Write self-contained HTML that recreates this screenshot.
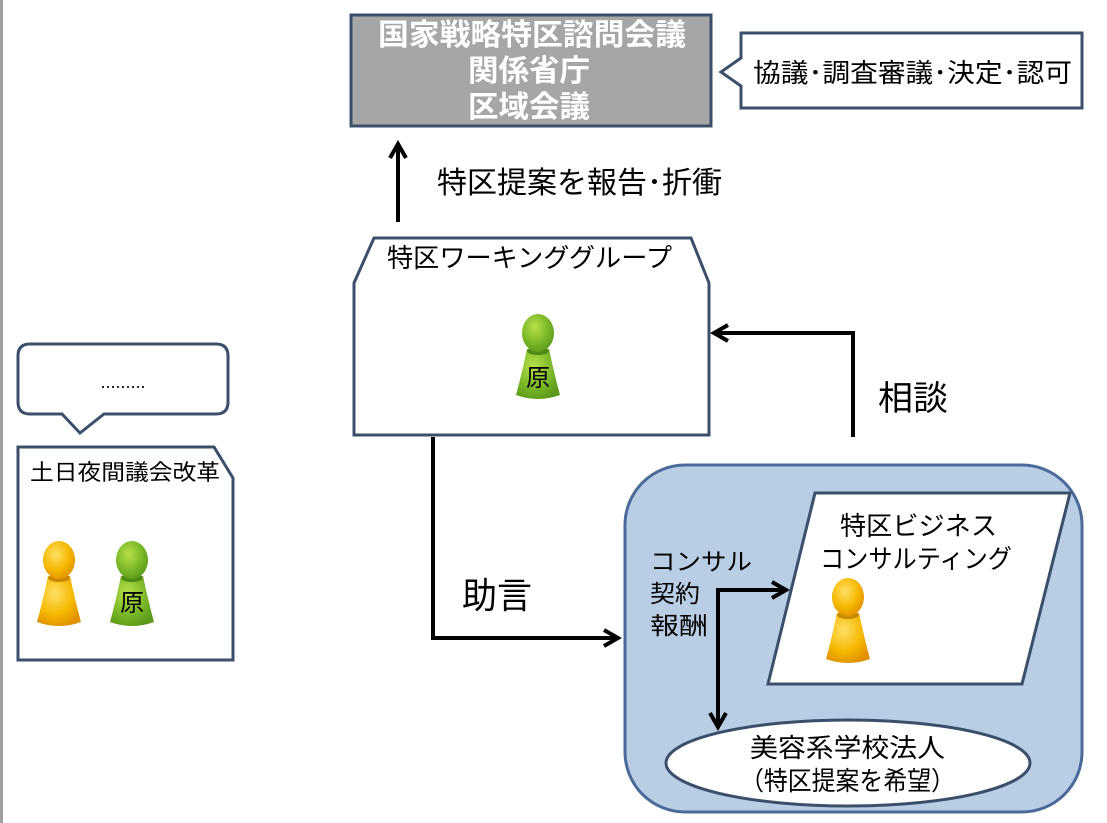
<!DOCTYPE html>
<html><head><meta charset="utf-8"><style>
html,body{margin:0;padding:0;background:#fff;}
svg{display:block;}
text{font-family:"Liberation Sans","Noto Sans CJK JP",sans-serif;}
</style></head><body>
<svg width="1107" height="823" viewBox="0 0 1107 823" xmlns="http://www.w3.org/2000/svg">
<defs>
<radialGradient id="gy" cx="40%" cy="35%" r="70%"><stop offset="0" stop-color="#ffe066"/><stop offset="0.6" stop-color="#f5b800"/><stop offset="1" stop-color="#e09000"/></radialGradient>
<radialGradient id="gg" cx="40%" cy="35%" r="70%"><stop offset="0" stop-color="#b8e04a"/><stop offset="0.6" stop-color="#7ab828"/><stop offset="1" stop-color="#5a9a18"/></radialGradient>
<g id="py"><path d="M-11,16 L11,16 Q16,40 22,62 Q0,70 -22,62 Q-16,40 -11,16Z" fill="url(#gy)"/><ellipse cx="0" cy="18" rx="11" ry="4" fill="#c98a00"/><ellipse cx="0" cy="0" rx="16" ry="19" fill="url(#gy)"/></g>
<g id="pg"><path d="M-11,16 L11,16 Q16,40 22,62 Q0,70 -22,62 Q-16,40 -11,16Z" fill="url(#gg)"/><ellipse cx="0" cy="18" rx="11" ry="4" fill="#4f8a14"/><ellipse cx="0" cy="0" rx="16" ry="19" fill="url(#gg)"/></g>
<marker id="ah" viewBox="0 0 10 10" refX="8" refY="5" markerWidth="5" markerHeight="5" orient="auto"><path d="M1,1 L8,5 L1,9" fill="none" stroke="#000" stroke-width="2"/></marker>
</defs>
<rect x="0" y="0" width="3" height="823" fill="#a0a0a0"/>

<rect x="351" y="15" width="360" height="111" fill="#a6a6a6" stroke="#3b4f6b" stroke-width="3"/>
<g fill="#fff" font-size="30" font-weight="bold">
<text x="378" y="45" textLength="308" lengthAdjust="spacingAndGlyphs">国家戦略特区諮問会議</text>
<text x="468" y="81" textLength="122" lengthAdjust="spacingAndGlyphs">関係省庁</text>
<text x="468" y="117" textLength="122" lengthAdjust="spacingAndGlyphs">区域会議</text>
</g>
<path d="M741,33 L1082,33 L1082,108 L741,108 L741,86 L721,72 L741,58 Z" fill="#fff" stroke="#3b4f6b" stroke-width="3"/>
<text x="753" y="82" font-size="26" textLength="319" lengthAdjust="spacingAndGlyphs">協議･調査審議･決定･認可</text>

<line x1="398" y1="222" x2="398" y2="144" stroke="#000" stroke-width="4" marker-end="url(#ah)"/>
<text x="437" y="193" font-size="30" textLength="285" lengthAdjust="spacingAndGlyphs">特区提案を報告･折衝</text>

<path d="M374,238 L691,238 L709,283 L709,435 L354,435 L354,283 Z" fill="#fff" stroke="#3b4f6b" stroke-width="3"/>
<text x="387" y="267" font-size="26" textLength="285" lengthAdjust="spacingAndGlyphs">特区ワーキンググループ</text>
<use href="#pg" x="538" y="333"/>
<text x="538" y="386" font-size="24" text-anchor="middle">原</text>

<polyline points="853,437 853,333 714,333" fill="none" stroke="#000" stroke-width="4" marker-end="url(#ah)"/>
<text x="878" y="410" font-size="34" textLength="70" lengthAdjust="spacingAndGlyphs">相談</text>

<path d="M30,344 L216,344 Q228,344 228,356 L228,402 Q228,414 216,414 L104,414 L80,433 L62,414 L30,414 Q18,414 18,402 L18,356 Q18,344 30,344 Z" fill="#fff" stroke="#3b4f6b" stroke-width="3"/>
<text x="123" y="388" font-size="18" text-anchor="middle">.........</text>

<path d="M18,447 L214,447 L233,478 L233,660 L18,660 Z" fill="#fff" stroke="#3b4f6b" stroke-width="3"/>
<text x="30" y="480" font-size="22" textLength="190" lengthAdjust="spacingAndGlyphs">土日夜間議会改革</text>
<use href="#py" x="59" y="560"/>
<use href="#pg" x="132" y="560"/>
<text x="132" y="611" font-size="24" text-anchor="middle">原</text>

<polyline points="433,437 433,638 618,638" fill="none" stroke="#000" stroke-width="4" marker-end="url(#ah)"/>
<text x="462" y="608" font-size="36" textLength="70" lengthAdjust="spacingAndGlyphs">助言</text>

<rect x="625" y="465" width="457" height="347" rx="60" ry="60" fill="#b9cde5" stroke="#4a6a99" stroke-width="3"/>
<path d="M815,493 L1070,493 L1022,684 L768,684 Z" fill="#fff" stroke="#3b4f6b" stroke-width="3"/>
<text x="840" y="535" font-size="26" textLength="157" lengthAdjust="spacingAndGlyphs">特区ビジネス</text>
<text x="820" y="568" font-size="26" textLength="192" lengthAdjust="spacingAndGlyphs">コンサルティング</text>
<use href="#py" x="848" y="597"/>
<g font-size="24">
<text x="650" y="570" textLength="102" lengthAdjust="spacingAndGlyphs">コンサル</text>
<text x="650" y="602" textLength="50" lengthAdjust="spacingAndGlyphs">契約</text>
<text x="650" y="634" textLength="58" lengthAdjust="spacingAndGlyphs">報酬</text>
</g>
<polyline points="718,725 718,590 786,590" fill="none" stroke="#000" stroke-width="4" marker-end="url(#ah)"/>
<line x1="718" y1="600" x2="718" y2="727" stroke="#000" stroke-width="4" marker-end="url(#ah)"/>
<ellipse cx="848" cy="763" rx="182" ry="43" fill="#fff" stroke="#3b4f6b" stroke-width="3"/>
<text x="750" y="757" font-size="26" textLength="195" lengthAdjust="spacingAndGlyphs">美容系学校法人</text>
<text x="740" y="790" font-size="26" textLength="215" lengthAdjust="spacingAndGlyphs">（特区提案を希望）</text>
</svg>
</body></html>
